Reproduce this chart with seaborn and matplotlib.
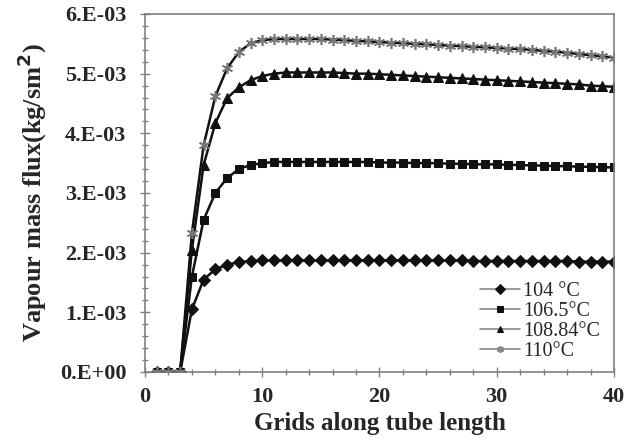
import numpy as np
import pandas as pd
import seaborn as sns
import matplotlib.pyplot as plt
from matplotlib.ticker import FuncFormatter, MultipleLocator

# grid positions along the tube
grids = list(range(1, 41))

# vapour mass flux (kg/sm2)
flux_104 = [0, 0, 0, 1.05e-3, 1.55e-3, 1.72e-3, 1.80e-3, 1.84e-3, 1.86e-3, 1.87e-3,
            1.87e-3, 1.87e-3, 1.87e-3, 1.87e-3, 1.87e-3, 1.87e-3, 1.87e-3, 1.87e-3, 1.87e-3, 1.87e-3,
            1.87e-3, 1.87e-3, 1.87e-3, 1.87e-3, 1.87e-3, 1.87e-3, 1.87e-3, 1.86e-3, 1.86e-3, 1.86e-3,
            1.86e-3, 1.86e-3, 1.86e-3, 1.86e-3, 1.86e-3, 1.86e-3, 1.85e-3, 1.85e-3, 1.85e-3, 1.85e-3]
flux_1065 = [0, 0, 0, 1.60e-3, 2.55e-3, 3.00e-3, 3.25e-3, 3.40e-3, 3.47e-3, 3.50e-3,
             3.52e-3, 3.52e-3, 3.52e-3, 3.52e-3, 3.52e-3, 3.52e-3, 3.52e-3, 3.52e-3, 3.52e-3, 3.51e-3,
             3.51e-3, 3.51e-3, 3.50e-3, 3.50e-3, 3.50e-3, 3.49e-3, 3.49e-3, 3.48e-3, 3.48e-3, 3.48e-3,
             3.47e-3, 3.47e-3, 3.46e-3, 3.46e-3, 3.45e-3, 3.45e-3, 3.44e-3, 3.44e-3, 3.43e-3, 3.43e-3]
flux_10884 = [0, 0, 0, 2.05e-3, 3.47e-3, 4.17e-3, 4.59e-3, 4.77e-3, 4.89e-3, 4.96e-3,
              5.00e-3, 5.02e-3, 5.02e-3, 5.02e-3, 5.02e-3, 5.02e-3, 5.01e-3, 5.00e-3, 5.00e-3, 4.99e-3,
              4.98e-3, 4.97e-3, 4.96e-3, 4.95e-3, 4.94e-3, 4.93e-3, 4.92e-3, 4.91e-3, 4.90e-3, 4.89e-3,
              4.88e-3, 4.87e-3, 4.86e-3, 4.85e-3, 4.84e-3, 4.83e-3, 4.82e-3, 4.80e-3, 4.79e-3, 4.78e-3]
flux_110 = [0, 0, 0, 2.33e-3, 3.80e-3, 4.62e-3, 5.09e-3, 5.36e-3, 5.51e-3, 5.56e-3,
            5.58e-3, 5.58e-3, 5.58e-3, 5.58e-3, 5.58e-3, 5.57e-3, 5.56e-3, 5.55e-3, 5.54e-3, 5.53e-3,
            5.52e-3, 5.51e-3, 5.50e-3, 5.49e-3, 5.48e-3, 5.47e-3, 5.46e-3, 5.45e-3, 5.44e-3, 5.43e-3,
            5.42e-3, 5.41e-3, 5.40e-3, 5.38e-3, 5.37e-3, 5.35e-3, 5.33e-3, 5.31e-3, 5.29e-3, 5.27e-3]

labels = ['104 \u00b0C', '106.5\u00b0C', '108.84\u00b0C', '110\u00b0C']
series = [flux_104, flux_1065, flux_10884, flux_110]

sns.set_style('white')
plt.rcParams['font.family'] = ['Liberation Serif', 'DejaVu Serif']

fig = plt.figure(figsize=(6.31, 4.43), dpi=100)
ax = fig.add_axes([0.2298, 0.1603, 0.7432, 0.8081])

styles = [
    dict(marker='D', markersize=6, markerfacecolor='#111111', markeredgecolor='#111111'),
    dict(marker='s', markersize=6, markerfacecolor='#111111', markeredgecolor='#111111'),
    dict(marker='^', markersize=7, markerfacecolor='#111111', markeredgecolor='#111111'),
    dict(marker=(6, 2, 0), markersize=8, markerfacecolor='none', markeredgecolor='#777777',
         markeredgewidth=1.2),
]

for lab, vals, st in zip(labels, series, styles):
    df = pd.DataFrame({'grid': grids, 'flux': vals})
    sns.lineplot(data=df, x='grid', y='flux', ax=ax, color='#111111', linewidth=1.8,
                 label=lab, **st)

ax.set_xlim(0, 40)
ax.set_ylim(0, 6e-3)
ax.xaxis.set_major_locator(MultipleLocator(10))
ax.xaxis.set_minor_locator(MultipleLocator(2))
ax.yaxis.set_major_locator(MultipleLocator(1e-3))
ax.yaxis.set_minor_locator(MultipleLocator(2e-4))


def sci(v, pos):
    if abs(v) < 1e-12:
        return '0.E+00'
    e = int(np.floor(np.log10(abs(v)) + 1e-9))
    m = v / 10 ** e
    return '%d.E-%02d' % (round(m), -e)


ax.yaxis.set_major_formatter(FuncFormatter(sci))
for sp in ax.spines.values():
    sp.set_color('#808080')
    sp.set_linewidth(1.2)
ax.tick_params(axis='both', which='major', direction='inout', length=7, width=1,
               color='#808080', labelsize=16)
ax.tick_params(axis='both', which='minor', direction='inout', length=5, width=1,
               color='#808080')
ax.tick_params(axis='both', which='both', bottom=True, left=True)
ax.tick_params(axis='y', which='major', pad=10)
ax.tick_params(axis='x', which='major', pad=7)
for t in ax.get_xticklabels() + ax.get_yticklabels():
    t.set_fontweight('bold')

ax.set_xlabel('Grids along tube length', fontsize=18, fontweight='bold', labelpad=4)
ax.set_ylabel('Vapour mass flux(kg/sm$^\\mathbf{2}$)', fontsize=19, fontweight='bold', labelpad=8)

leg = ax.legend(loc='lower right', frameon=False, fontsize=14.5, handlelength=2.0,
                labelspacing=0.05, borderaxespad=0.3, handletextpad=0.15,
                bbox_to_anchor=(1.0, -0.01))
for h in leg.legend_handles:
    h.set_color('#888888')
    h.set_linewidth(1.2)
    h.set_markersize(5)
    h.set_markerfacecolor('#111111')
    h.set_markeredgecolor('#111111')
leg.legend_handles[3].set_markeredgecolor('#888888')

fig.savefig('out.png', dpi=100)
